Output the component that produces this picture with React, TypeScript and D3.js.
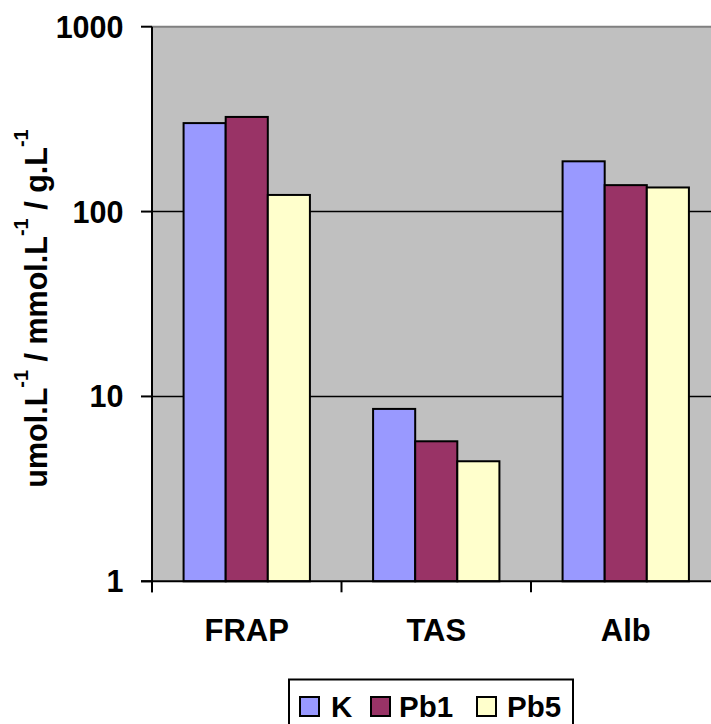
import React from "react";
import * as d3 from "d3";

const categories = ["FRAP", "TAS", "Alb"];
const seriesNames = ["K", "Pb1", "Pb5"];
const seriesColors = ["#9999FF", "#993366", "#FFFFCC"];
const valuesK = [301, 8.56, 187];
const valuesPb1 = [325, 5.72, 139];
const valuesPb5 = [123, 4.46, 135];
const yTicks = [1, 10, 100, 1000];
const yTickLabels = ["1", "10", "100", "1000"];

const series = [valuesK, valuesPb1, valuesPb5];

export default function App() {
  const W = 711, H = 724;
  const left = 152, top = 26.7, bottom = 581.3, right = 720.5;
  const font = "'Liberation Sans', Arial, sans-serif";

  const y = d3.scaleLog().domain([1, 1000]).range([bottom, top]);
  const x0 = d3.scaleBand<string>().domain(categories).range([left, right]).padding(0);
  const bw = x0.bandwidth() / 4.5;
  const x1 = d3.scaleBand<string>().domain(seriesNames).range([0.75 * bw, 3.75 * bw]).padding(0);

  const catEdges = categories.map((c) => x0(c)!);
  catEdges.push(right);

  const legendX = [300, 371, 477];
  const legendTextX = [331, 399, 507];

  return (
    <svg width={W} height={H} style={{ position: "absolute", left: 0, top: 0, background: "#fff" }}>
      <rect x={left} y={top} width={right - left} height={bottom - top} fill="#C0C0C0" />
      {yTicks.slice(1, -1).map((t) => (
        <line key={t} x1={left} x2={right} y1={y(t)} y2={y(t)} stroke="#000" strokeWidth={1.5} />
      ))}
      <line x1={left} x2={right} y1={y(1000)} y2={y(1000)} stroke="#808080" strokeWidth={2} />
      {categories.map((c, ci) =>
        seriesNames.map((s, si) => {
          const v = series[si][ci];
          const bx = x0(c)! + x1(s)!;
          return (
            <rect
              key={c + s}
              x={bx}
              y={y(v)}
              width={x1.bandwidth()}
              height={bottom - y(v)}
              fill={seriesColors[si]}
              stroke="#000"
              strokeWidth={2}
            />
          );
        })
      )}
      <line x1={left} x2={left} y1={top} y2={bottom + 11} stroke="#000" strokeWidth={2} />
      <line x1={left - 11} x2={right} y1={bottom} y2={bottom} stroke="#000" strokeWidth={2} />
      {yTicks.map((t, i) => (
        <g key={t}>
          <line x1={left - 11} x2={left} y1={y(t)} y2={y(t)} stroke="#000" strokeWidth={2} />
          <text
            x={123.5}
            y={y(t) + 11}
            textAnchor="end"
            fontFamily={font}
            fontWeight="bold"
            fontSize={30.5}
            fill="#000"
          >
            {yTickLabels[i]}
          </text>
        </g>
      ))}
      {catEdges.map((e, i) => (
        <line key={i} x1={e} x2={e} y1={bottom} y2={bottom + 11} stroke="#000" strokeWidth={2} />
      ))}
      {categories.map((c) => (
        <text
          key={c}
          x={x0(c)! + x0.bandwidth() / 2}
          y={641}
          textAnchor="middle"
          fontFamily={font}
          fontWeight="bold"
          fontSize={31}
          fill="#000"
        >
          {c}
        </text>
      ))}
      <text
        transform="translate(46.5,308.5) rotate(-90)"
        textAnchor="middle"
        fontFamily={font}
        fontWeight="bold"
        fontSize={30.5}
        fill="#000"
      >
        <tspan>umol.L</tspan>
        <tspan fontSize={20} dy={-19}>-1</tspan>
        <tspan dy={19}> / mmol.L</tspan>
        <tspan fontSize={20} dy={-19}>-1</tspan>
        <tspan dy={19}> / g.L</tspan>
        <tspan fontSize={20} dy={-19}>-1</tspan>
      </text>
      <rect x={289} y={679.5} width={284} height={70} fill="#fff" stroke="#000" strokeWidth={2} />
      {seriesNames.map((s, i) => (
        <g key={s}>
          <rect x={legendX[i]} y={697} width={19} height={19} fill={seriesColors[i]} stroke="#000" strokeWidth={2} />
          <text x={legendTextX[i]} y={717} fontFamily={font} fontWeight="bold" fontSize={29.5} fill="#000">
            {s}
          </text>
        </g>
      ))}
    </svg>
  );
}
